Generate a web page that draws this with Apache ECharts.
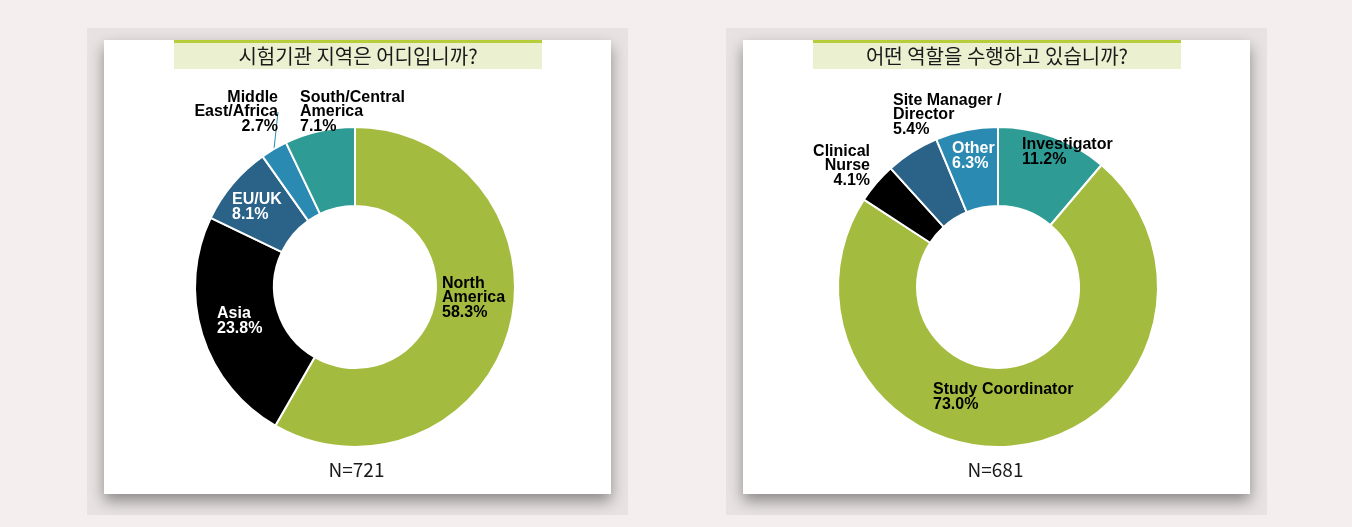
<!DOCTYPE html>
<html>
<head>
<meta charset="utf-8">
<title>Survey donuts</title>
<script src="https://cdn.jsdelivr.net/npm/echarts@6/dist/echarts.min.js"></script>
<style>
  html, body { margin: 0; padding: 0; background: #f4eeee; }
  #main { width: 1352px; height: 527px; }
</style>
</head>
<body>
<div id="main"></div>
<script>
// chart data
const regionTitle = '시험기관 지역은 어디입니까?'
const regionNames = ['North\nAmerica', 'Asia', 'EU/UK', 'Middle\nEast/Africa', 'South/Central\nAmerica']
const regionShares = [58.3, 23.8, 8.1, 2.7, 7.1]
const regionN = 'N=721'

const roleTitle = '어떤 역할을 수행하고 있습니까?'
const roleNames = ['Investigator', 'Study Coordinator', 'Clinical\nNurse', 'Site Manager /\nDirector', 'Other']
const roleShares = [11.2, 73.0, 4.1, 5.4, 6.3]
const roleN = 'N=681'

// styling
const GREEN = '#a3bb3e'
const BLACK = '#000000'
const DARK_BLUE = '#2a6288'
const MID_BLUE = '#2b8ab2'
const TEAL = '#2e9c95'

const regionColors = [GREEN, BLACK, DARK_BLUE, MID_BLUE, TEAL]
const regionLabelColors = ['#000', '#fff', '#fff', '#000', '#000']
// label anchor relative to the donut centre: [dx, dy, align]
const regionLabelPos = [[87, 11, 'left'], [-138, 34, 'left'], [-123, -80, 'left'], [-77, -175, 'right'], [-55, -175, 'left']]
const regionOutside = [false, false, false, true, true]
const regionLeader = [false, false, false, true, false]

const roleColors = [TEAL, GREEN, BLACK, DARK_BLUE, MID_BLUE]
const roleLabelColors = ['#000', '#000', '#000', '#000', '#fff']
const roleLabelPos = [[24, -135, 'left'], [-65, 110, 'left'], [-128, -121, 'right'], [-105, -172, 'left'], [-46, -131, 'left']]
const roleOutside = [false, false, true, true, false]
const roleLeader = [false, false, false, true, false]

const leftCenter = [355, 287]
const rightCenter = [998, 287]

function buildData(names, values, colors, labelColors, outside, leader) {
  return names.map((name, i) => ({
    name: name,
    value: values[i],
    itemStyle: { color: colors[i] },
    label: { color: labelColors[i], position: outside[i] ? 'outside' : 'inside' },
    labelLine: { show: leader[i], length: 6, length2: 0, lineStyle: { color: colors[i], width: 1 } }
  }))
}

function donut(center, data, labelPos) {
  return {
    type: 'pie',
    center: center,
    radius: [81, 160],
    startAngle: 90,
    clockwise: true,
    avoidLabelOverlap: false,
    silent: true,
    itemStyle: { borderColor: '#fff', borderWidth: 2 },
    label: {
      show: true,
      fontFamily: 'Liberation Sans, Arial, sans-serif',
      fontWeight: 'bold',
      fontSize: 16,
      lineHeight: 14.5,
      formatter: p => p.name + '\n' + p.value.toFixed(1) + '%'
    },
    labelLayout: function (p) {
      const o = labelPos[p.dataIndex]
      return { x: center[0] + o[0], y: center[1] + o[1], align: o[2], verticalAlign: 'middle' }
    },
    emphasis: { disabled: true },
    data: data
  }
}

function card(x0, x1, titleX0, titleX1, title, nText) {
  const mid = (titleX0 + titleX1) / 2
  return [
    { type: 'rect', shape: { x: x0 - 17, y: 28, width: x1 - x0 + 34, height: 487 }, style: { fill: '#e8e3e2' } },
    {
      type: 'rect', shape: { x: x0, y: 40, width: x1 - x0, height: 454 },
      style: { fill: '#fff', shadowBlur: 14, shadowOffsetY: 7, shadowColor: 'rgba(0,0,0,0.4)' }
    },
    { type: 'rect', shape: { x: titleX0, y: 40, width: titleX1 - titleX0, height: 29 }, style: { fill: '#ebf0d0' } },
    { type: 'rect', shape: { x: titleX0, y: 40, width: titleX1 - titleX0, height: 3 }, style: { fill: '#b8cd3a' } },
    {
      type: 'text', x: mid, y: 56,
      style: { text: title, align: 'center', verticalAlign: 'middle', fill: '#1a1a1a', fontSize: 20, fontFamily: 'Noto Sans CJK KR' }
    },
    {
      type: 'text', x: (x0 + x1) / 2 - 1, y: 470,
      style: { text: nText, align: 'center', verticalAlign: 'middle', fill: '#1a1a1a', fontSize: 19, fontFamily: 'Noto Sans CJK KR' }
    }
  ]
}

const chart = echarts.init(document.getElementById('main'))
chart.setOption({
  backgroundColor: '#f4eeee',
  animation: false,
  graphic: card(104, 611, 174, 542, regionTitle, regionN).concat(card(743, 1250, 813, 1181, roleTitle, roleN)),
  series: [
    donut(leftCenter, buildData(regionNames, regionShares, regionColors, regionLabelColors, regionOutside, regionLeader), regionLabelPos),
    donut(rightCenter, buildData(roleNames, roleShares, roleColors, roleLabelColors, roleOutside, roleLeader), roleLabelPos)
  ]
})
</script>
</body>
</html>
